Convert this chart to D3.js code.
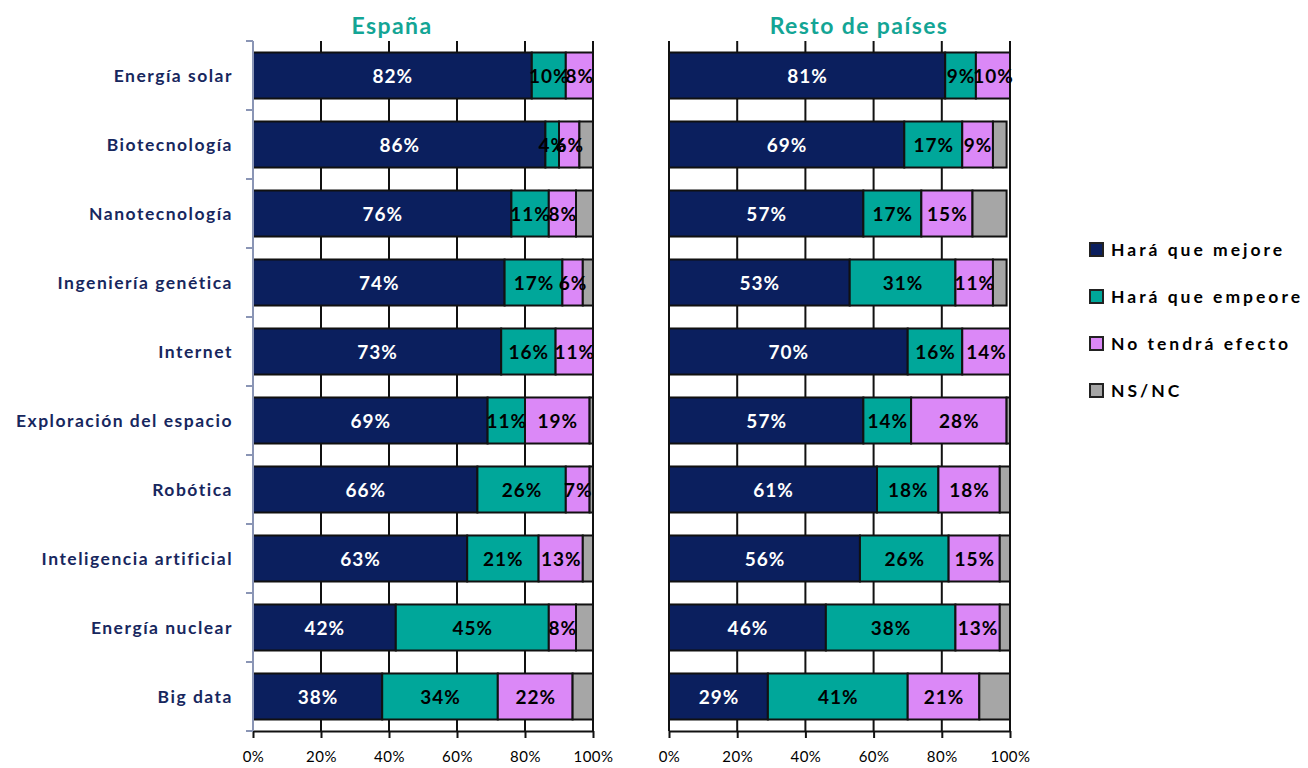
<!DOCTYPE html>
<html>
<head>
<meta charset="utf-8">
<script src="https://cdn.jsdelivr.net/npm/d3@7"></script>
<style>
  body { margin: 0; background: #fff; }
  text { font-family: Lato, "Open Sans", sans-serif; }
</style>
</head>
<body>
<div id="app"></div>
<script>
// categorías (de arriba a abajo)
const categories = ["Energía solar", "Biotecnología", "Nanotecnología", "Ingeniería genética",
  "Internet", "Exploración del espacio", "Robótica", "Inteligencia artificial",
  "Energía nuclear", "Big data"];

const seriesNames = ["Hará que mejore", "Hará que empeore", "No tendrá efecto", "NS/NC"];
const colors = ["#0b1f5e", "#00a79a", "#db88f7", "#a6a6a6"];

// España
const espMejore   = [82, 86, 76, 74, 73, 69, 66, 63, 42, 38];
const espEmpeore  = [10, 4, 11, 17, 16, 11, 26, 21, 45, 34];
const espNoEfecto = [8, 6, 8, 6, 11, 19, 7, 13, 8, 22];
const espNsnc     = [0, 4, 5, 3, 0, 1, 1, 3, 5, 6];

// Resto de países
const restoMejore   = [81, 69, 57, 53, 70, 57, 61, 56, 46, 29];
const restoEmpeore  = [9, 17, 17, 31, 16, 14, 18, 26, 38, 41];
const restoNoEfecto = [10, 9, 15, 11, 14, 28, 18, 15, 13, 21];
const restoNsnc     = [0, 4, 10, 4, 0, 1, 3, 3, 3, 9];

const xTicks = [0, 20, 40, 60, 80, 100];

const W = 1308, H = 768;
const yTop = 41, yBottom = 731;

const svg = d3.select("#app").append("svg")
  .attr("width", W).attr("height", H);

const y = d3.scaleBand()
  .domain(categories)
  .range([yTop, yBottom])
  .paddingInner(0.333)
  .paddingOuter(0.1667);

function toRows(a, b, c, d) {
  return categories.map((cat, i) => ({
    cat, "0": a[i], "1": b[i], "2": c[i], "3": d[i]
  }));
}

const stack = d3.stack().keys(["0", "1", "2", "3"]);

function panel(rows, x0, x1, title, titleX, showLeft) {
  const x = d3.scaleLinear().domain([0, 100]).range([x0, x1]);
  const g = svg.append("g");

  // gridlines
  g.selectAll("line.grid")
    .data(xTicks)
    .enter().append("line")
    .attr("x1", d => x(d)).attr("x2", d => x(d))
    .attr("y1", yTop).attr("y2", yBottom)
    .attr("stroke", "#111").attr("stroke-width", 2);

  // bars
  const layers = stack(rows);
  g.selectAll("g.layer")
    .data(layers)
    .enter().append("g")
    .attr("fill", (d, i) => colors[i])
    .selectAll("rect")
    .data(d => d)
    .enter().append("rect")
    .attr("x", d => x(d[0]))
    .attr("width", d => x(d[1]) - x(d[0]))
    .attr("y", d => y(d.data.cat))
    .attr("height", y.bandwidth())
    .attr("stroke", "#111")
    .attr("stroke-width", 2);

  // labels
  layers.slice(0, 3).forEach((layer, li) => {
    g.selectAll("text.l" + li)
      .data(layer)
      .enter().append("text")
      .attr("x", d => (x(d[0]) + x(d[1])) / 2 + 0.5)
      .attr("y", d => y(d.data.cat) + y.bandwidth() / 2)
      .attr("dy", "0.42em")
      .attr("text-anchor", "middle")
      .attr("font-size", 19)
      .attr("font-weight", "bold")
      .attr("letter-spacing", "1px")
      .attr("fill", li === 0 ? "#fff" : "#000")
      .text(d => (d[1] - d[0]) + "%");
  });

  // bottom axis
  const ax = g.append("g")
    .attr("transform", `translate(0,${yBottom})`)
    .call(d3.axisBottom(x).tickValues(xTicks).tickFormat(d => d + "%").tickSize(7).tickSizeOuter(0).tickPadding(13));
  ax.select(".domain").attr("stroke", "#111").attr("stroke-width", 2);
  ax.selectAll(".tick line").attr("stroke", "#111").attr("stroke-width", 2);
  ax.selectAll(".tick text").attr("font-size", 15).attr("fill", "#000")
    .attr("letter-spacing", "0.5px")
    .style("font-family", "Lato, sans-serif");

  if (showLeft) {
    const bounds = [yTop].concat(categories.map(c => y(c) - y.step() * y.paddingInner() / 2 + y.step()));
    const la = g.append("g");
    la.append("line")
      .attr("x1", x0).attr("x2", x0).attr("y1", yTop).attr("y2", yBottom)
      .attr("stroke", "#8a95b5").attr("stroke-width", 2);
    la.selectAll("line.t")
      .data(bounds)
      .enter().append("line")
      .attr("x1", x0 - 7).attr("x2", x0)
      .attr("y1", d => d).attr("y2", d => d)
      .attr("stroke", "#8a95b5").attr("stroke-width", 2);
    la.selectAll("text")
      .data(categories)
      .enter().append("text")
      .attr("x", 233)
      .attr("y", d => y(d) + y.bandwidth() / 2)
      .attr("dy", "0.38em")
      .attr("text-anchor", "end")
      .attr("font-size", 17.5)
      .attr("font-weight", "bold")
      .attr("letter-spacing", "1.5px")
      .attr("fill", "#17275e")
      .text(d => d);
  }

  svg.append("text")
    .attr("x", titleX).attr("y", 34)
    .attr("text-anchor", "middle")
    .attr("font-size", 23)
    .attr("font-weight", "bold")
    .attr("letter-spacing", "1.4px")
    .attr("fill", "#13a595")
    .text(title);
}

panel(toRows(espMejore, espEmpeore, espNoEfecto, espNsnc), 253, 593, "España", 392, true);
panel(toRows(restoMejore, restoEmpeore, restoNoEfecto, restoNsnc), 669, 1010, "Resto de países", 859, false);

// legend
const legend = svg.append("g").attr("transform", "translate(1090,243)");
const li = legend.selectAll("g")
  .data(seriesNames)
  .enter().append("g")
  .attr("transform", (d, i) => `translate(0,${i * 47})`);
li.append("rect")
  .attr("width", 13).attr("height", 13)
  .attr("fill", (d, i) => colors[i])
  .attr("stroke", "#222").attr("stroke-width", 2);
li.append("text")
  .attr("x", 21).attr("y", 13)
  .attr("font-size", 17.5)
  .attr("font-weight", "bold")
  .attr("letter-spacing", "3px")
  .attr("fill", "#000")
  .text(d => d);
</script>
</body>
</html>
